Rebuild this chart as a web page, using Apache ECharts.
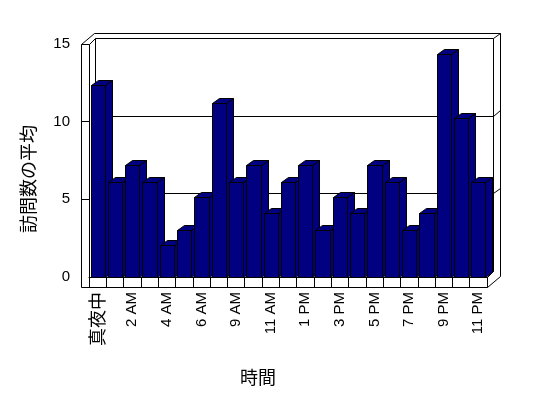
<!DOCTYPE html>
<html>
<head>
<meta charset="utf-8">
<script src="https://cdn.jsdelivr.net/npm/echarts@6/dist/echarts.min.js"></script>
<style>
  html, body { margin: 0; padding: 0; background: #fff; }
  #chart { width: 548px; height: 398px; }
</style>
</head>
<body>
<div id="chart"></div>
<script>
// hours (8 AM has no entry in the source sheet)
const hours = ["真夜中", "1 AM", "2 AM", "3 AM", "4 AM", "5 AM", "6 AM", "7 AM", "9 AM", "10 AM", "11 AM", "12 PM",
  "1 PM", "2 PM", "3 PM", "4 PM", "5 PM", "6 PM", "7 PM", "8 PM", "9 PM", "10 PM", "11 PM"];
const visits = [12.3, 6.1, 7.2, 6.1, 2.0, 3.0, 5.1, 11.2, 6.1, 7.2, 4.1, 6.1, 7.2, 3.0, 5.1, 4.1, 7.2, 6.1, 3.0, 4.1, 14.3, 10.2, 6.1];
const yTicks = [0, 5, 10, 15];
const wallLines = [5, 10];

const BAR = "#000080", EDGE = "#000";
const DX = 7, DY = -5;       // bar depth
const WX = 6.5, WY = -5.5;   // wall depth
const WALL = 8, FLOOR = 10;  // wall / floor thickness
const FONT = "'Liberation Sans', 'Noto Sans CJK JP', sans-serif";
const JFONT = "'Noto Sans CJK JP', sans-serif";

function px(v) {
  return Math.round(v - 0.5) + 0.5;
}

function line(pts) {
  return {
    type: "polyline",
    shape: { points: pts.map(p => [px(p[0]), px(p[1])]) },
    style: { stroke: EDGE, lineWidth: 1, fill: null }
  };
}

function poly(pts) {
  return {
    type: "polygon",
    shape: { points: pts.map(p => [px(p[0]), px(p[1])]) },
    style: { fill: BAR, stroke: EDGE, lineWidth: 1 }
  };
}

// walls + floor of the 3d box
function renderFrame(params, api) {
  let c = params.coordSys,
    x0 = c.x, R = c.x + c.width, T = c.y, B = c.y + c.height,
    L = x0 - WALL,
    kids = [];
  kids.push(line([[L, B + FLOOR], [L, T], [x0, T], [x0, B]]));
  kids.push(line([[L, T], [L + 2 * WX, T + 2 * WY]]));
  kids.push(line([[x0, T], [x0 + WX, T + WY]]));
  kids.push(line([[x0 + WX, B + WY], [x0 + WX, T + WY], [R + WX, T + WY], [R + WX, B + WY], [x0 + WX, B + WY]]));
  kids.push(line([[L + 2 * WX, T + 2 * WY], [R + 2 * WX, T + 2 * WY], [R + 2 * WX, B + FLOOR + 2 * WY]]));
  kids.push(line([[R + WX, T + WY], [R + 2 * WX, T + 2 * WY]]));
  kids.push(line([[L, B + FLOOR], [R, B + FLOOR], [R + 2 * WX, B + FLOOR + 2 * WY]]));
  kids.push(line([[R, B + FLOOR], [R, B], [R + WX, B + WY]]));
  for (let i = 0; i < wallLines.length; i++) {
    let y = api.coord([0, wallLines[i]])[1];
    kids.push(line([[x0 + WX, y + WY], [R + WX, y + WY], [R + 2 * WX, y + 2 * WY]]));
    kids.push(line([[L, y], [x0, y]]));
  }
  return { type: "group", children: kids };
}

function renderBar(params, api) {
  let i = api.value(0),
    base = api.coord([i, 0]),
    top = api.coord([i, api.value(1)]),
    band = api.size([1, 0])[0],
    l = base[0] - band / 2 + 2,
    r = l + band - 3,
    t = top[1],
    b = base[1];
  return {
    type: "group",
    children: [
      poly([[r, t], [r + DX, t + DY], [r + DX, b + DY], [r, b]]),
      poly([[l, t], [l + DX, t + DY], [r + DX, t + DY], [r, t]]),
      poly([[l, t], [r, t], [r, b], [l, b]])
    ]
  };
}

let myChart = echarts.init(document.getElementById("chart"), null, { renderer: "canvas" });
let option = {
  backgroundColor: "#fff",
  animation: false,
  grid: { left: 89, right: 61, top: 44, bottom: 121, containLabel: false },
  xAxis: {
    type: "category",
    data: hours,
    boundaryGap: true,
    axisLine: { show: true, lineStyle: { color: EDGE, width: 1 } },
    axisTick: { show: true, interval: 0, length: 10, lineStyle: { color: EDGE } },
    axisLabel: {
      interval: 1,
      rotate: 90,
      margin: 15,
      color: "#000",
      fontSize: 15,
      fontFamily: FONT,
      formatter: function (v) {
        return /[^\x00-\x7f]/.test(v) ? "{j|" + v + "}" : v;
      },
      rich: { j: { fontSize: 18, fontFamily: JFONT, color: "#000" } }
    },
    splitLine: { show: false }
  },
  yAxis: {
    type: "value",
    min: yTicks[0],
    max: yTicks[yTicks.length - 1],
    interval: yTicks[1] - yTicks[0],
    axisLine: { show: false },
    axisTick: { show: false },
    splitLine: { show: false },
    axisLabel: { margin: 19, color: "#000", fontSize: 15, fontFamily: FONT }
  },
  graphic: [
    {
      type: "text",
      x: 28, y: 179,
      rotation: Math.PI / 2,
      style: { text: "訪問数の平均", fontSize: 18, fontFamily: JFONT, fill: "#000", align: "center", verticalAlign: "middle" }
    },
    {
      type: "text",
      x: 258, y: 377,
      style: { text: "時間", fontSize: 18, fontFamily: JFONT, fill: "#000", align: "center", verticalAlign: "middle" }
    }
  ],
  series: [
    {
      type: "custom",
      renderItem: renderFrame,
      data: [[0, 0]],
      silent: true,
      z: 1
    },
    {
      type: "custom",
      renderItem: renderBar,
      data: visits.map((v, i) => [i, v]),
      z: 2
    }
  ]
};

if (option && typeof option === "object") myChart.setOption(option);
</script>
</body>
</html>
